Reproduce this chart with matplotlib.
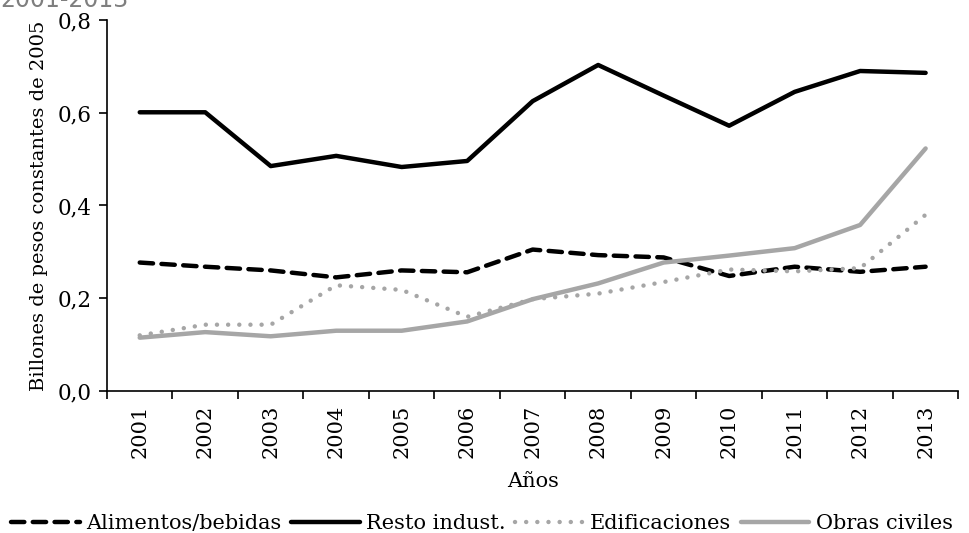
import numpy as np
import matplotlib
matplotlib.use("Agg")
import matplotlib.pyplot as plt

plt.rcParams['font.family'] = ['DejaVu Serif']

# datos (billones de pesos constantes de 2005)
years = ['2001', '2002', '2003', '2004', '2005', '2006', '2007',
         '2008', '2009', '2010', '2011', '2012', '2013']
alimentos = [0.277, 0.268, 0.260, 0.245, 0.260, 0.256, 0.305,
             0.293, 0.288, 0.248, 0.268, 0.257, 0.268]
resto = [0.601, 0.601, 0.485, 0.507, 0.483, 0.496, 0.625,
         0.703, 0.637, 0.572, 0.645, 0.690, 0.686]
edificaciones = [0.120, 0.143, 0.143, 0.228, 0.218, 0.160, 0.198,
                 0.210, 0.235, 0.262, 0.258, 0.265, 0.380]
obras = [0.115, 0.127, 0.118, 0.130, 0.130, 0.150, 0.198,
         0.232, 0.277, 0.292, 0.308, 0.358, 0.523]
y_ticks = [0.0, 0.2, 0.4, 0.6, 0.8]

fig = plt.figure(figsize=(9.7, 5.33), dpi=100)
ax = fig.add_axes([0.1103, 0.2664, 0.8777, 0.6961])

x = np.arange(len(years))
gris = '#A6A6A6'

ax.plot(x, alimentos, color='black', lw=3.2, linestyle=(0, (3.0, 1.9)),
        dash_capstyle='round', label='Alimentos/bebidas')
ax.plot(x, resto, color='black', lw=3.2, solid_capstyle='round',
        label='Resto indust.')
ax.plot(x, edificaciones, color=gris, lw=3.2, linestyle=(0, (0.01, 2.5)),
        dash_capstyle='round', label='Edificaciones')
ax.plot(x, obras, color=gris, lw=3.2, solid_capstyle='round',
        label='Obras civiles')

ax.set_xlim(-0.5, len(years) - 0.5)
ax.set_ylim(0, 0.8)
ax.set_yticks(y_ticks)
ax.set_yticklabels([f'{v:.1f}'.replace('.', ',') for v in y_ticks], fontsize=15.5)

ax.set_xticks(x)
ax.set_xticklabels(years, rotation=90, fontsize=15)
ax.tick_params(axis='x', which='major', length=0, pad=10)
ax.set_xticks(np.arange(-0.5, len(years)), minor=True)
ax.tick_params(axis='x', which='minor', length=6, width=1.2, direction='out')
ax.tick_params(axis='y', length=6, width=1.2, direction='out', pad=5)

for s in ['top', 'right']:
    ax.spines[s].set_visible(False)
for s in ['left', 'bottom']:
    ax.spines[s].set_linewidth(1.2)

ax.set_xlabel('Años', fontsize=15, labelpad=10)
ax.set_ylabel('Billones de pesos constantes de 2005', fontsize=14, labelpad=7)

fig.legend(loc='lower center', bbox_to_anchor=(0.497, -0.035), ncol=4,
           frameon=False, fontsize=15, handlelength=3.3, handletextpad=0.3,
           columnspacing=0.45)

fig.text(0.0, 1 - 7 / 533, '2001-2013', color='#7F7F7F', fontsize=17,
         family='DejaVu Sans', va='baseline')

fig.savefig('out.png', dpi=100)
